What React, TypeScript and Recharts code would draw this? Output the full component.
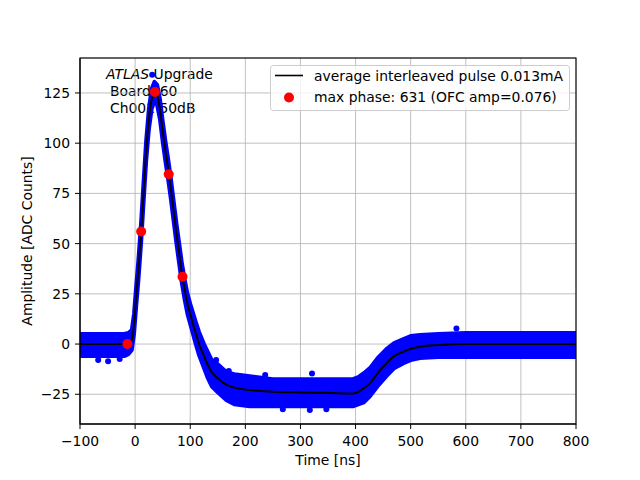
import React from "react";
import { ComposedChart, XAxis, YAxis, CartesianGrid, Line, Area, Scatter } from "recharts";

// axis ticks
const xTicks = [-100, 0, 100, 200, 300, 400, 500, 600, 700, 800];
const yTicks = [-25, 0, 25, 50, 75, 100, 125];

// average interleaved pulse (black line)
const pulseTime = [-100, -50, -20, -10, -6, -2, 2, 6, 11, 15, 20, 25, 30, 35, 40, 45, 50, 55, 60, 65, 70, 75, 80, 85, 90, 95, 100, 105, 110, 116, 125, 132, 139, 150, 166, 180, 208, 250, 300, 350, 395, 405, 415, 426, 440, 456, 470, 487, 500, 517, 550, 600, 650, 700, 750, 800];
const pulseAmp = [0, 0, 0, 0.3, 2, 10, 24, 37, 56, 74, 96, 112, 122, 126, 124, 117, 106, 96, 87, 77, 66, 55, 45, 35, 27, 20, 15, 10, 5.5, 0, -6, -10.5, -14, -17, -20.3, -21.7, -22.9, -23.7, -24.1, -24.3, -24.6, -23.8, -22, -19.6, -14.5, -9.6, -6, -3.8, -2.4, -1.3, -0.5, 0, 0, 0, 0, 0];

// spread of the individual samples (blue cloud), lower and upper edge
const cloudTime = [-100, -20, -12, -6, -2, 2, 6, 11, 15, 20, 25, 30, 35, 40, 45, 50, 55, 60, 65, 70, 75, 80, 85, 90, 95, 100, 105, 110, 116, 125, 132, 139, 150, 166, 180, 208, 250, 300, 350, 395, 405, 415, 426, 440, 456, 470, 487, 500, 517, 550, 600, 800];
const cloudLow = [-6, -6, -5, -3, 5, 19, 32, 51, 69, 91, 107, 117, 121, 119, 112, 101, 91, 82, 72, 61, 50, 40, 30, 22, 15, 10, 5, 0, -5.5, -12, -17, -21, -24, -28, -30, -31, -31, -31, -31, -31, -30, -29, -26, -21, -16, -12, -9.5, -8, -7, -6.5, -6.5, -6.5];
const cloudHigh = [5, 5, 5.5, 7, 15, 29, 42, 61, 79, 101, 117, 127, 130.5, 129, 122, 111, 101, 92, 82, 71, 60, 50, 40, 32, 25, 20, 15.5, 11, 6, 0, -4, -8, -10, -14, -15, -16, -17.5, -17.5, -17.5, -17.5, -16.5, -14.5, -12, -7, -2.5, 0.5, 2.5, 4, 4.5, 5, 5.5, 5.5];

// isolated samples outside the cloud
const strayTime = [31, -67, -49, -28, 147, 170, 236, 321, 268, 317, 347, 583];
const strayAmp = [134, -8, -8.5, -7.5, -8, -13.4, -15.4, -14.7, -32.5, -32.8, -32.5, 7.8];

// max phase samples (red)
const phaseTime = [-14, 11, 36, 61, 86];
const phaseAmp = [0, 56, 125.5, 84.5, 33.5];

const pulse = pulseTime.map((t, i) => ({ t, v: pulseAmp[i] }));
const cloud = cloudTime.map((t, i) => ({ t, range: [cloudLow[i], cloudHigh[i]] }));
const stray = strayTime.map((t, i) => ({ t, v: strayAmp[i] }));
const phase = phaseTime.map((t, i) => ({ t, v: phaseAmp[i] }));

const font = "DejaVu Sans";
const tickStyle = { fontSize: 13.9, fill: "#000", fontFamily: font };
const fmt = (v: number) => String(v).replace("-", "\u2212");

const App = () => {
  return (
    <div style={{ position: "absolute", left: 0, top: 0, width: 640, height: 480, background: "#fff" }}>
      {/* text box, drawn under the data like in the original */}
      <svg width={640} height={480} style={{ position: "absolute", left: 0, top: 0 }}>
        <g fontFamily={font} fontSize={13.9} fill="#000">
          <text x={106} y={79}>
            <tspan fontStyle="italic">ATLAS</tspan> Upgrade
          </text>
          <text x={110} y={96}>Board260</text>
          <text x={110} y={112.5}>Ch002 50dB</text>
        </g>
      </svg>
      <div style={{ position: "absolute", left: 0, top: 0 }}>
        <ComposedChart width={640} height={480} margin={{ top: 58, right: 64, bottom: 26, left: 30 }}>
          <CartesianGrid stroke="#b0b0b0" strokeWidth={0.8} />
          <XAxis
            type="number"
            dataKey="t"
            domain={[-100, 800]}
            ticks={xTicks}
            allowDataOverflow
            height={30}
            tickSize={5}
            tickMargin={7}
            tick={tickStyle}
            tickFormatter={fmt}
            stroke="#000"
          />
          <YAxis
            type="number"
            domain={[-39.8, 142.4]}
            ticks={yTicks}
            allowDataOverflow
            width={50}
            tickSize={5}
            tickMargin={5}
            tick={tickStyle}
            tickFormatter={fmt}
            stroke="#000"
          />
          <Area
            data={cloud}
            dataKey="range"
            type="linear"
            fill="#0000ff"
            fillOpacity={1}
            stroke="#0000ff"
            strokeWidth={4}
            strokeLinejoin="round"
            isAnimationActive={false}
          />
          <Scatter
            data={stray}
            dataKey="v"
            isAnimationActive={false}
            shape={(p: any) => <circle cx={p.cx} cy={p.cy} r={3} fill="#0000ff" />}
          />
          <Line
            data={pulse}
            dataKey="v"
            type="monotone"
            stroke="#000"
            strokeWidth={2}
            dot={false}
            isAnimationActive={false}
          />
          <Scatter
            data={phase}
            dataKey="v"
            isAnimationActive={false}
            shape={(p: any) => <circle cx={p.cx} cy={p.cy} r={5} fill="#ff0000" />}
          />
        </ComposedChart>
      </div>
      {/* frame, axis titles and legend */}
      <svg width={640} height={480} style={{ position: "absolute", left: 0, top: 0 }}>
        <rect x={80} y={58} width={496} height={366} fill="none" stroke="#000" strokeWidth={1.1} />
        <g fontFamily={font} fontSize={13.9} fill="#000">
          <text x={328} y={465} textAnchor="middle">Time [ns]</text>
          <text x={32} y={241} textAnchor="middle" transform="rotate(-90 32 241)">Amplitude [ADC Counts]</text>
        </g>
        <rect x={270.5} y={65.5} width={299} height={45} rx={3} fill="#fff" fillOpacity={0.8} stroke="#cccccc" />
        <line x1={275} x2={303} y1={75.5} y2={75.5} stroke="#000" strokeWidth={1.6} />
        <circle cx={289} cy={97.5} r={5} fill="#ff0000" />
        <g fontFamily={font} fontSize={13.9} fill="#000">
          <text x={314} y={80.5}>average interleaved pulse 0.013mA</text>
          <text x={314} y={102}>max phase: 631 (OFC amp=0.076)</text>
        </g>
      </svg>
    </div>
  );
};

export default App;
